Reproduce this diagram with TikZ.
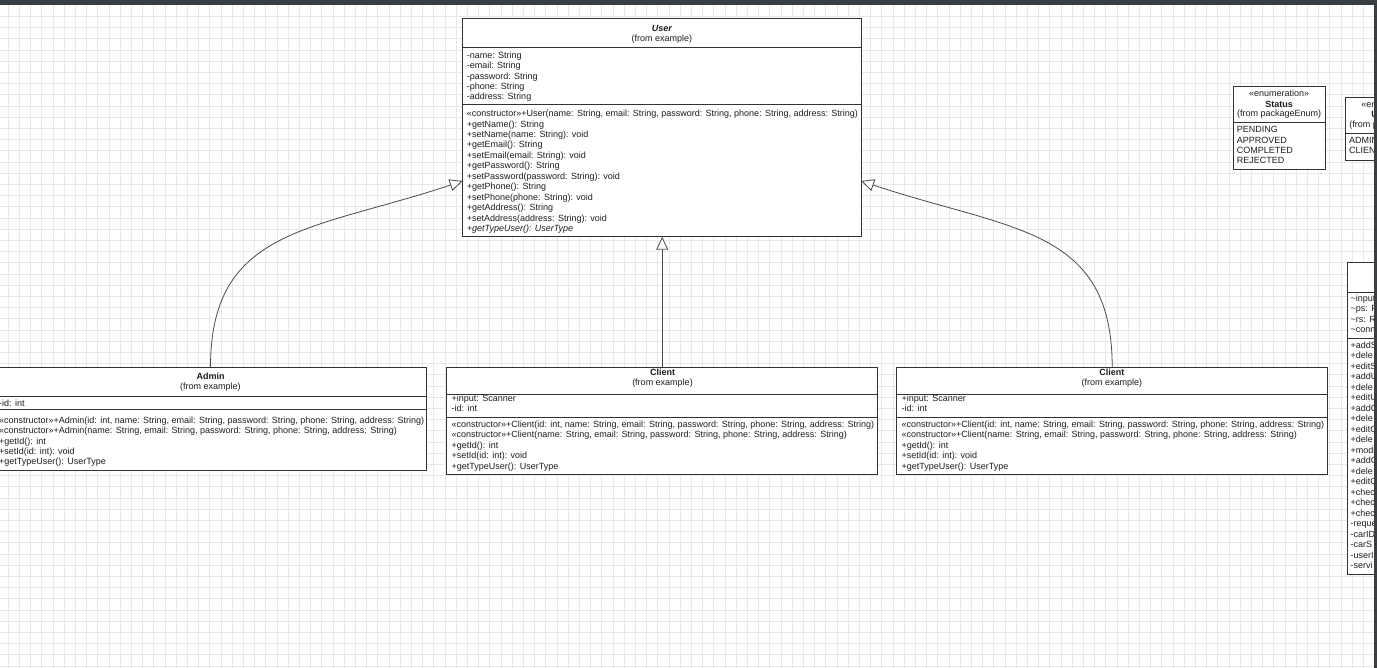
\documentclass[tikz,border=0pt]{standalone}
\usepackage{fontspec}
\setmainfont{Liberation Sans}
\usetikzlibrary{arrows.meta}
\definecolor{gridc}{HTML}{E8E8E8}
\definecolor{barc}{HTML}{3A3F44}
\definecolor{linec}{HTML}{333333}
\definecolor{edgec}{HTML}{4A4A4A}
\definecolor{txtc}{HTML}{1E1E1E}
\begin{document}
\begin{tikzpicture}[x=1pt,y=-1pt,
  gridline/.style={draw=gridc, line width=0.9pt},
  classbox/.style={draw=linec, fill=white, line width=0.9pt, rectangle,
    inner sep=0pt, outer sep=0pt, anchor=north west},
  sepline/.style={draw=linec, line width=0.9pt},
  txt/.style={inner sep=0pt, text=txtc, font=\fontsize{9}{10.4}\selectfont},
  row/.style={txt, anchor=base west},
  ctitle/.style={txt, anchor=base, font=\fontsize{9}{10.4}\selectfont\bfseries},
  cnote/.style={txt, anchor=base},
  inherit/.style={draw=edgec, line width=0.8pt,
    -{Triangle[open, length=13pt, width=12pt, fill=white]}},
]
\useasboundingbox (0,0) rectangle (1377,668);
\clip (0,0) rectangle (1377,668);
\fill[white] (0,0) rectangle (1377,668);

% background grid
\foreach \k in {0,...,123} \draw[gridline] ({8.3+11.2*\k},0) -- ({8.3+11.2*\k},668);
\foreach \k in {0,...,58} \draw[gridline] (0,{16.5+11.2*\k}) -- (1377,{16.5+11.2*\k});

% ---------- User ----------
\node[classbox, minimum width=398.3pt, minimum height=218pt] (user) at (462.7,18.7) {};
\draw[sepline] (user.west |- 0,47.3) -- (user.east |- 0,47.3);
\draw[sepline] (user.west |- 0,104) -- (user.east |- 0,104);
\node[ctitle, font=\fontsize{9}{10.4}\selectfont\bfseries\itshape] (user-t) at (661.9,31.5) {User};
\node[cnote] (user-f) at (661.9,41.5) {(from example)};
\foreach \t [count=\i from 0] in {{-name: String},{-email: String},{-password: String},{-phone: String},{-address: String}}
  \node[row] (user-a\i) at (466.7,{58.3+10.4*\i}) {\t};
\foreach \t [count=\i from 0] in {
  {«constructor»+User(name: String, email: String, password: String, phone: String, address: String)},
  {+getName(): String},{+setName(name: String): void},{+getEmail(): String},
  {+setEmail(email: String): void},{+getPassword(): String},
  {+setPassword(password: String): void},{+getPhone(): String},
  {+setPhone(phone: String): void},{+getAddress(): String},
  {+setAddress(address: String): void},{\itshape +getTypeUser(): UserType}}
  \node[row] (user-m\i) at (466.7,{116.6+10.45*\i}) {\t};

% ---------- Admin ----------
\node[classbox, minimum width=431pt, minimum height=102.7pt] (admin) at (-5,367.3) {};
\draw[sepline] (admin.west |- 0,396) -- (admin.east |- 0,396);
\draw[sepline] (admin.west |- 0,409.3) -- (admin.east |- 0,409.3);
\node[ctitle] (admin-t) at (210.5,380) {Admin};
\node[cnote] (admin-f) at (210.5,389.5) {(from example)};
\node[row] (admin-a0) at (-1,406.6) {-id: int};
\foreach \t [count=\i from 0] in {
  {«constructor»+Admin(id: int, name: String, email: String, password: String, phone: String, address: String)},
  {«constructor»+Admin(name: String, email: String, password: String, phone: String, address: String)},
  {+getId(): int},{+setId(id: int): void},{+getTypeUser(): UserType}}
  \node[row] (admin-m\i) at (-1,{423.3+10.4*\i}) {\t};

% ---------- Client (two copies) ----------
\foreach \nm/\lx/\cx in {clientA/446.7/662.5, clientB/896.7/1111.9} {
  \node[classbox, minimum width=431pt, minimum height=107.7pt] (\nm) at (\lx,367) {};
  \draw[sepline] (\nm.west |- 0,394) -- (\nm.east |- 0,394);
  \draw[sepline] (\nm.west |- 0,417.3) -- (\nm.east |- 0,417.3);
  \node[ctitle] (\nm-t) at (\cx,375.5) {Client};
  \node[cnote] (\nm-f) at (\cx,385.5) {(from example)};
  \node[row] (\nm-a0) at ({\lx+4.8},401.3) {+input: Scanner};
  \node[row] (\nm-a1) at ({\lx+4.8},411.8) {-id: int};
  \foreach \t [count=\i from 0] in {
    {«constructor»+Client(id: int, name: String, email: String, password: String, phone: String, address: String)},
    {«constructor»+Client(name: String, email: String, password: String, phone: String, address: String)},
    {+getId(): int},{+setId(id: int): void},{+getTypeUser(): UserType}}
    \node[row] (\nm-m\i) at ({\lx+4.8},{427.3+10.45*\i}) {\t};
}

% ---------- Status enumeration ----------
\node[classbox, minimum width=91.7pt, minimum height=83.3pt] (status) at (1233.3,86) {};
\draw[sepline] (status.west |- 0,122.3) -- (status.east |- 0,122.3);
\node[cnote] (status-s) at (1279.2,96.5) {«enumeration»};
\node[ctitle] (status-t) at (1279.2,107.3) {Status};
\node[cnote] (status-f) at (1279.2,116.6) {(from packageEnum)};
\foreach \t [count=\i from 0] in {PENDING,APPROVED,COMPLETED,REJECTED}
  \node[row] (status-v\i) at (1236.7,{132.6+10.45*\i}) {\t};

% ---------- UserType enumeration ----------
\node[classbox, minimum width=91.7pt, minimum height=63pt] (utype) at (1345.7,97) {};
\draw[sepline] (utype.west |- 0,133) -- (utype.east |- 0,133);
\node[cnote] (utype-s) at (1391.5,107.2) {«enumeration»};
\node[ctitle] (utype-t) at (1391.5,118) {UserType};
\node[cnote] (utype-f) at (1391.5,127.3) {(from packageEnum)};
\node[row] (utype-v0) at (1349,143.3) {ADMIN};
\node[row] (utype-v1) at (1349,153.7) {CLIENT};

% ---------- database class at the right edge ----------
\node[classbox, minimum width=160pt, minimum height=312pt] (dbc) at (1347.5,262) {};
\draw[sepline] (dbc.west |- 0,292) -- (dbc.east |- 0,292);
\draw[sepline] (dbc.west |- 0,338) -- (dbc.east |- 0,338);
\foreach \t [count=\i from 0] in {\textasciitilde input,\textasciitilde ps: P,\textasciitilde rs: R,\textasciitilde conn}
  \node[row] (dbc-a\i) at (1350.5,{301.3+10.5*\i}) {\t};
\foreach \t [count=\i from 0] in {+addS,+dele,+editS,+addU,+dele,+editU,+addC,+dele,+editC,+dele,+modi,+addC,+dele,+editC,+chec,+chec,+chec,-reque,-carID,-carS,-userI,-servi}
  \node[row] (dbc-m\i) at (1350.5,{348.3+10.5*\i}) {\t};

% ---------- generalisations ----------
\coordinate (uL) at (user.west |- 0,181);
\coordinate (uR) at (user.east |- 0,181);
\draw[inherit] (admin.north) .. controls +(0,-140) and +(-150,50) .. (uL);
\draw[inherit] (clientA.north) -- (clientA.north |- user.south);
\draw[inherit] (clientB.north) .. controls +(0,-140) and +(150,50) .. (uR);

% window frame
\fill[barc] (0,0) rectangle (1377,5);
\fill[barc] (1374,0) rectangle (1377,668);
\end{tikzpicture}
\end{document}
